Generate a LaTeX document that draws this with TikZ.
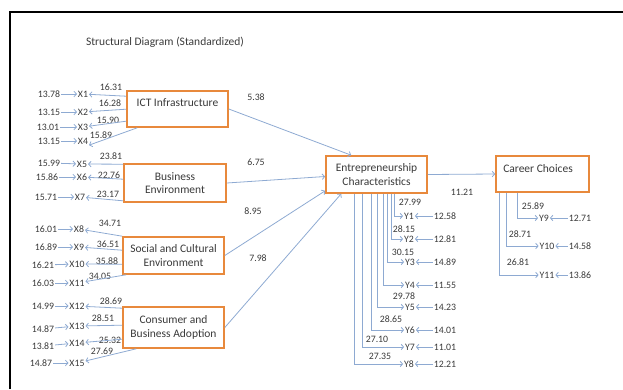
\documentclass[tikz,border=0pt]{standalone}
\usepackage{fontspec}
\setmainfont{Carlito}
\usetikzlibrary{arrows.meta}
\definecolor{boxorange}{HTML}{E8893C}
\definecolor{lineblue}{HTML}{8EAAD2}
\definecolor{txt}{HTML}{3A3A3A}
\begin{document}
\begin{tikzpicture}[x=1pt,y=-1pt,
  box/.style={draw=boxorange, line width=1.6pt, fill=white, inner sep=2pt},
  lbl/.style={font=\fontsize{11.5}{13.5}\selectfont, text=txt, align=center},
  num/.style={font=\fontsize{9.8}{11}\selectfont, text=txt, inner sep=0.8pt},
  ind/.style={draw=lineblue, line width=0.8pt, -{Straight Barb[length=2.5pt,width=5.5pt]}},
  frame/.style={draw=black, line width=1.3pt}]
\useasboundingbox (0,0) rectangle (623,389);
\draw[frame] (10,389) -- (10,12) -- (623,12);
\node[lbl] (title) at (165,42) {Structural Diagram (Standardized)};

% latent boxes
\node[box, minimum width=101pt, minimum height=36pt] (ict) at (177.5,109) {};
\node[lbl] (ictt) at (177.5,103) {ICT Infrastructure};
\node[box, lbl, minimum width=102pt, minimum height=38pt] (be) at (175,183) {Business\\Environment};
\node[box, lbl, minimum width=101pt, minimum height=37pt] (sce) at (173.5,255.5) {Social and Cultural\\Environment};
\node[box, lbl, minimum width=101pt, minimum height=41pt] (cba) at (173.5,327.5) {Consumer and\\Business Adoption};
\node[box, lbl, minimum width=101pt, minimum height=37pt] (ec) at (376.5,174.5) {Entrepreneurship\\Characteristics};
\node[box, minimum width=93pt, minimum height=36pt] (cc) at (542.5,174) {};
\node[lbl] (cct) at (538,169) {Career Choices};

% X indicators with error values
\foreach \i/\px/\py/\ev/\ex/\ey in {
  1/83/94/13.78/49/94, 2/83/112/13.15/49/112, 3/83/127/13.01/48/127, 4/83/141/13.15/49/141,
  5/82/164/15.99/49/163, 6/82/177/15.86/47/177, 7/80/197/15.71/46/197,
  8/79/229/16.01/46/229, 9/79/247/16.89/46/247, 10/77/264/16.21/43/265, 11/77/283/16.03/43/283,
  12/77/306/14.99/43/306, 13/77/326/14.87/43/329, 14/77/343/13.81/43/346, 15/77/363/14.87/41/363}
{
  \node[num] (x\i) at (\px,\py) {X\i};
  \node[num] (ex\i) at (\ex,\ey) {\ev};
  \draw[ind] (ex\i) -- (x\i);
}
% X loadings
\foreach \v/\lx/\ly [count=\k] in {
  16.31/111/87, 16.28/110/103, 15.90/108/120, 15.89/101/135,
  23.81/111/156, 22.76/109/175, 23.17/108/194,
  34.71/110/223, 36.51/108/244, 35.88/107/261, 34.05/100/276,
  28.69/111/301, 28.51/103/318, 25.32/110/340, 27.69/102/351}
{ \node[num] (lx\k) at (\lx,\ly) {\v}; }

% box -> X arrows
\draw[ind] ([yshift=-6pt]ict.north west) -- (x1);
\draw[ind] ([yshift=-19pt]ict.north west) -- (x2);
\draw[ind] ([yshift=-31pt]ict.north west) -- (x3);
\draw[ind] ([xshift=11pt]ict.south west) -- (x4.south east);
\draw[ind] ([yshift=-1pt]be.north west) -- (x5);
\draw[ind] ([yshift=-16pt]be.north west) -- (x6);
\draw[ind] ([yshift=2pt]be.south west) -- (x7);
\draw[ind] (sce.north west) -- (x8);
\draw[ind] ([yshift=-14pt]sce.north west) -- (x9);
\draw[ind] ([yshift=-28pt]sce.north west) -- (x10);
\draw[ind] ([xshift=4pt]sce.south west) -- (x11);
\draw[ind] ([yshift=-2pt]cba.north west) -- (x12);
\draw[ind] ([yshift=-19pt]cba.north west) -- (x13);
\draw[ind] ([yshift=-33pt]cba.north west) -- (x14);
\draw[ind] ([xshift=14pt]cba.south west) -- (x15);

% structural paths
\draw[ind] (ict.east) -- ([xshift=26pt]ec.north west);
\draw[ind] (be.east) -- ([yshift=-2pt]ec.west);
\draw[ind] (sce.east) -- ([yshift=3pt]ec.south west);
\draw[ind] (cba.east) -- ([xshift=16pt]ec.south west);
\draw[ind] (ec.east) -- (cc.west);
\node[num] (p1) at (256,97) {5.38};
\node[num] (p2) at (256,162) {6.75};
\node[num] (p3) at (253,211) {8.95};
\node[num] (p4) at (258,258) {7.98};
\node[num] (p5) at (462,192) {11.21};

% Y indicators of EC
\foreach \i/\sh/\py/\ev/\px in {
  1/69/216/12.58/409, 2/66/239/12.81/409, 3/62/262/14.89/410, 4/58/285/11.55/410,
  5/52/307/14.23/410, 6/46/330/14.01/410, 7/37/347/11.01/410, 8/29/364/12.21/409}
{
  \node[num] (y\i) at (\px,\py) {Y\i};
  \node[num] (ey\i) at (445,\py) {\ev};
  \draw[ind] ([xshift=\sh pt]ec.south west) |- (y\i);
  \draw[ind] (ey\i) -- (y\i);
}
\foreach \v/\lx/\ly [count=\k] in {
  27.99/410/202, 28.15/404/229, 30.15/403/252, 29.78/404/296,
  28.65/391/319, 27.10/377/339, 27.35/380/356}
{ \node[num] (ly\k) at (\lx,\ly) {\v}; }

% Y indicators of CC
\foreach \i/\sh/\py/\px/\ev in {9/22/218/544/12.71, 10/11/246/547/14.58, 11/4/275/547/13.86}
{
  \node[num] (y\i) at (\px,\py) {Y\i};
  \node[num] (ey\i) at (580,\py) {\ev};
  \draw[ind] ([xshift=\sh pt]cc.south west) |- (y\i);
  \draw[ind] (ey\i) -- (y\i);
}
\node[num] (lc1) at (533,206) {25.89};
\node[num] (lc2) at (520,234) {28.71};
\node[num] (lc3) at (518,262) {26.81};
\end{tikzpicture}
\end{document}
